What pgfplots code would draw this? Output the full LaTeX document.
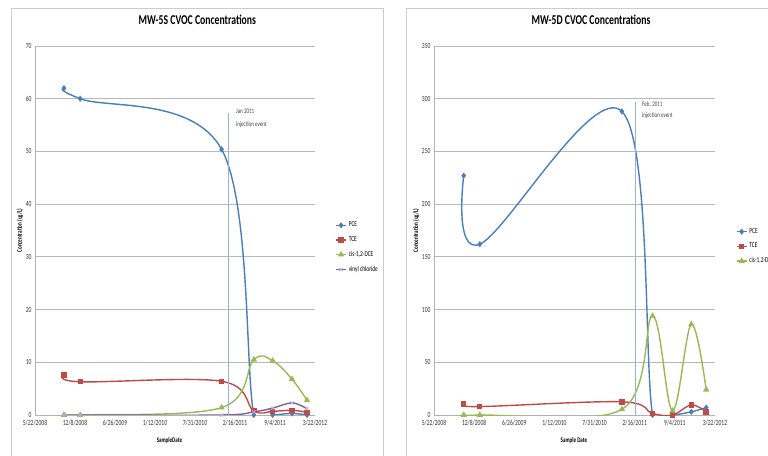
\documentclass[border=0pt]{standalone}
\usepackage{pgfplots}
\pgfplotsset{compat=1.18}
\usepackage{fontspec}
\setmainfont{Carlito}[FakeStretch=0.72]
\definecolor{cpce}{HTML}{4A7EBB}
\definecolor{ctce}{HTML}{BE4B48}
\definecolor{ccis}{HTML}{98B954}
\definecolor{cvin}{HTML}{7D60A0}
\definecolor{cinj}{HTML}{95B3D7}
\pgfplotsset{
  cvoc/.style={
    scale only axis, height=369pt,
    xmin=0, xmax=1400, ymin=0,
    xtick={0,200,...,1400},
    xticklabels={5/22/2008,12/8/2008,6/26/2009,1/12/2010,7/31/2010,2/16/2011,9/4/2011,3/22/2012},
    axis lines=left,
    axis line style={-, draw=gray!60, line width=0.6pt},
    ymajorgrids, grid style={gray!55, line width=0.9pt},
    tick style={draw=gray!60},
    major tick length=0pt,
    tick label style={font=\fontsize{7.8}{8}\selectfont, text=black!80},
    /pgf/number format/assume math mode=true,
    xticklabel style={yshift=-2pt},
    label style={font=\fontsize{7}{8}\selectfont\bfseries},
    title style={font=\fontsize{13.5}{14}\selectfont\bfseries},
    legend style={draw=none, fill=none, font=\fontsize{7.5}{8}\selectfont, row sep=4.2pt, inner sep=0pt},
    legend cell align=left,
    legend image code/.code={\draw[mark repeat=2,mark phase=2,#1] plot coordinates {(0pt,0pt) (5pt,0pt) (10pt,0pt)};},
    every axis plot/.append style={line width=1.4pt, smooth, tension=0.6},
  }
}
\begin{document}
\begin{tikzpicture}
\useasboundingbox (0pt,0pt) rectangle (768pt,455pt);
\draw[gray!40, line width=0.8pt] (11pt,-5pt) rectangle (383pt,447pt);
\draw[gray!40, line width=0.8pt] (406pt,-5pt) rectangle (790pt,447pt);

% ---------------- Left chart ----------------
\begin{axis}[cvoc, at={(35pt,40pt)}, anchor=south west, width=280pt,
  ymax=70, ytick={0,10,...,70},
  title={MW-5S CVOC Concentrations},
  title style={at={(axis description cs:0.58,1.054)}, anchor=center},
  xlabel={SampleDate},
  xlabel style={at={(axis description cs:0.48,-0.07)}, anchor=center},
  ylabel={Concentration (ug/L)},
  ylabel style={at={(axis description cs:-0.054,0.5)}, anchor=center, rotate=0},
  legend style={at={(1.072,0.454)}, anchor=west},
]
\addplot[cpce, mark=diamond*, mark size=2pt] coordinates {(145,62) (226,60) (933,50.4) (1094,0) (1188,0) (1285,0.3) (1360,0)};
\addplot[ctce, mark=square*, mark size=2pt] coordinates {(145,7.6) (226,6.3) (933,6.4) (1094,0.8) (1188,0.7) (1285,0.9) (1360,0.5)};
\addplot[ccis, mark=triangle*, mark size=2.3pt] coordinates {(145,0) (226,0) (933,1.4) (1094,10.5) (1188,10.3) (1285,6.8) (1360,2.8)};
\addplot[cvin, mark=x, mark size=2.2pt, mark options={draw=cvin!50, line width=0.8pt}] coordinates {(145,0) (226,0) (933,0) (1094,0.6) (1188,1.3) (1285,2.3) (1360,1.2)};
\addplot[cinj, line width=0.7pt, sharp plot, forget plot] coordinates {(965,0) (965,57.3)};
\node[anchor=west, font=\fontsize{7}{8}\selectfont, text=black!75, inner sep=0pt] at (axis cs:1005,57.6) {Jan 2011};
\node[anchor=west, font=\fontsize{7}{8}\selectfont, text=black!75, inner sep=0pt] at (axis cs:1005,55.1) {injection event};
\legend{PCE,TCE,{cis-1,2-DCE},vinyl chloride}
\end{axis}

% ---------------- Right chart ----------------
\begin{axis}[cvoc, at={(434pt,40pt)}, anchor=south west, width=281pt,
  ymax=350, ytick={0,50,...,350},
  title={MW-5D CVOC Concentrations},
  title style={at={(axis description cs:0.559,1.054)}, anchor=center},
  xlabel={Sample Date},
  xlabel style={at={(axis description cs:0.498,-0.07)}, anchor=center},
  ylabel={Concentration (ug/L)},
  ylabel style={at={(axis description cs:-0.064,0.5)}, anchor=center, rotate=0},
  legend style={at={(1.074,0.457)}, anchor=west},
]
\addplot[cpce, mark=diamond*, mark size=2pt] coordinates {(148,227) (228,162) (936,288) (1089,0) (1188,0) (1282,3) (1356,7)};
\addplot[ctce, mark=square*, mark size=2pt] coordinates {(148,10.4) (228,8) (936,12.5) (1089,1.5) (1188,0) (1282,9.5) (1356,3)};
\addplot[ccis, mark=triangle*, mark size=2.3pt] coordinates {(148,0) (228,0) (936,5.4) (1089,94) (1188,4) (1282,86) (1356,24)};
\addplot[cinj, line width=0.7pt, sharp plot, forget plot] coordinates {(1001,0) (1001,297)};
\node[anchor=west, font=\fontsize{7}{8}\selectfont, text=black!75, inner sep=0pt] at (axis cs:1036,295) {Feb. 2011};
\node[anchor=west, font=\fontsize{7}{8}\selectfont, text=black!75, inner sep=0pt] at (axis cs:1036,283.5) {injection event};
\legend{PCE,TCE,{cis-1,2-DCE}}
\end{axis}
\end{tikzpicture}
\end{document}
